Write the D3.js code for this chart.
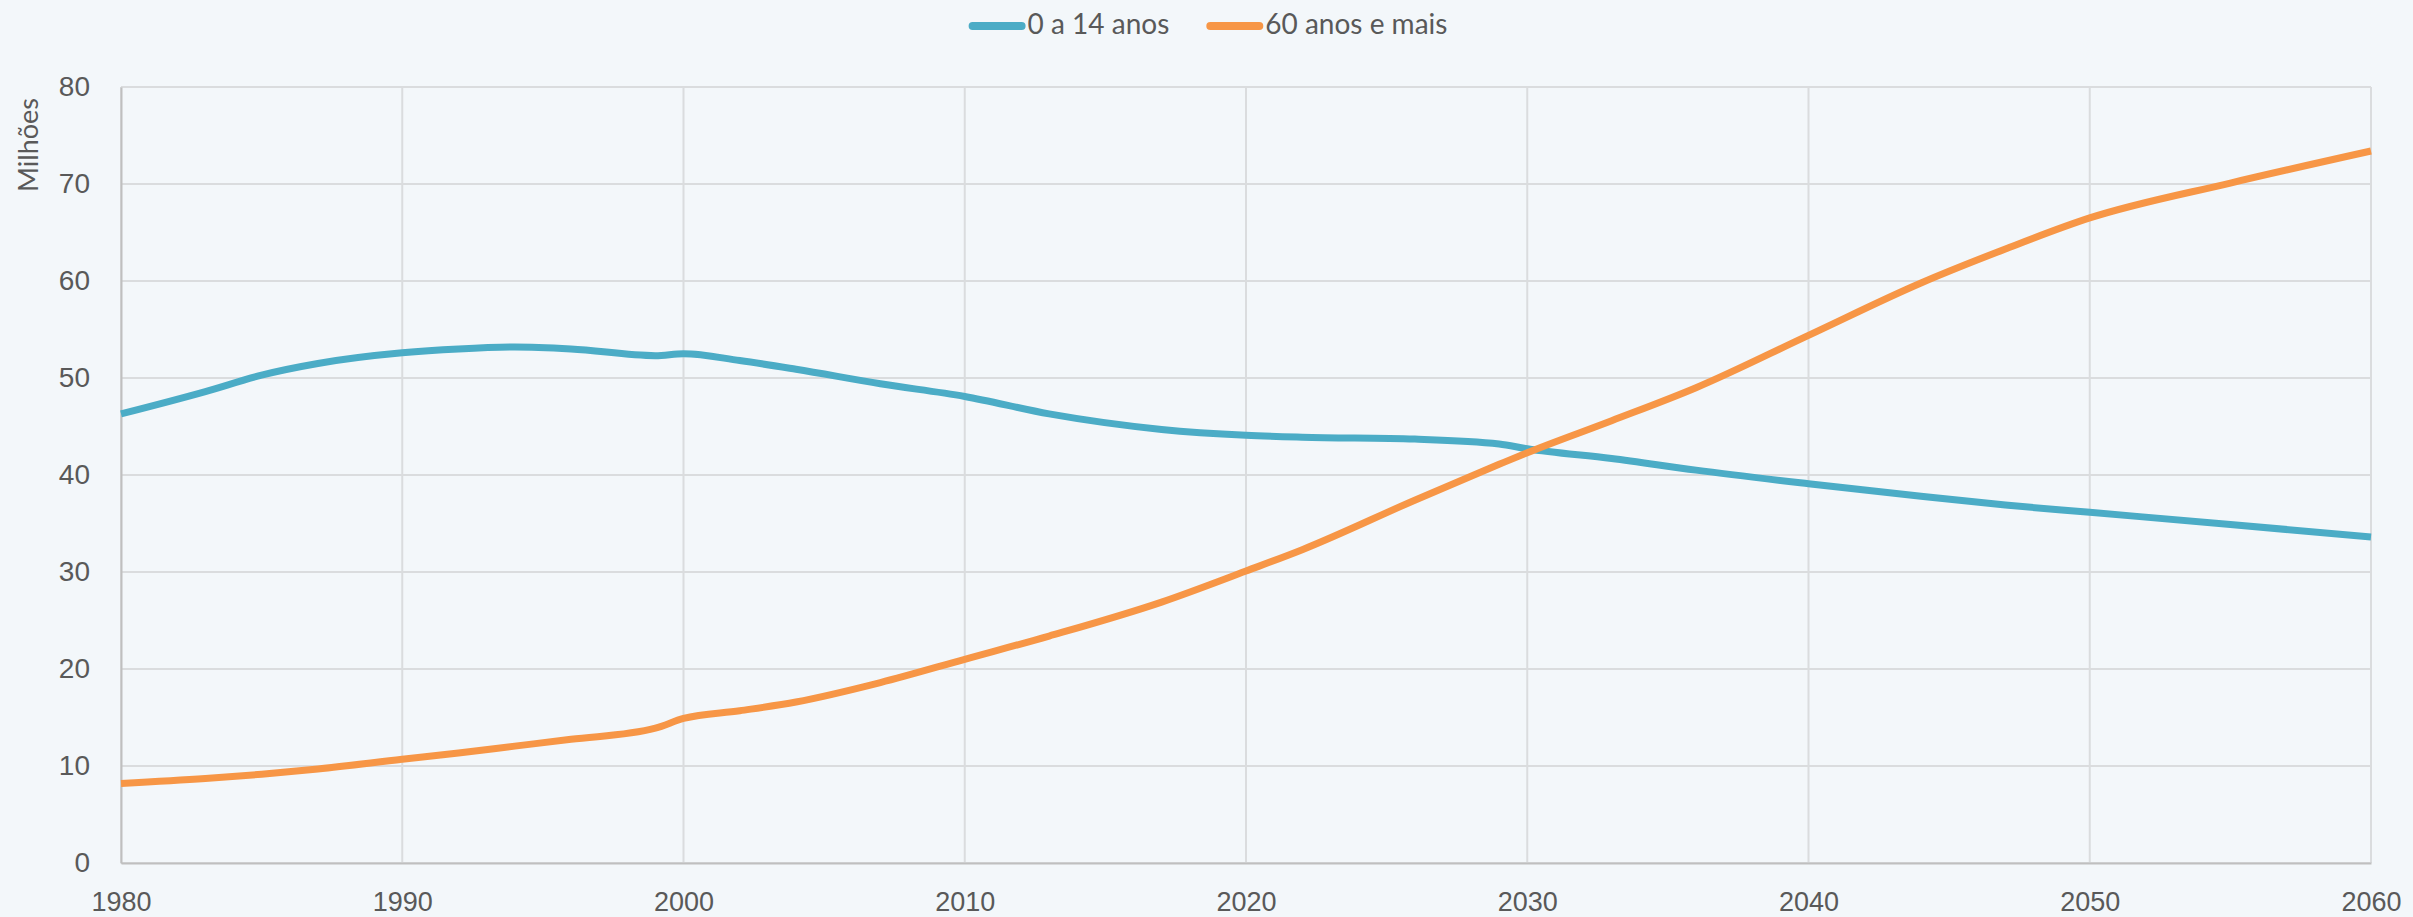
<!DOCTYPE html>
<html>
<head>
<meta charset="utf-8">
<script src="https://d3js.org/d3.v7.min.js"></script>
<style>
  body { margin: 0; background: #F3F7FA; }
  svg { display: block; font-family: Lato, "Noto Sans", sans-serif; }
  .tick text { fill: #595959; font-size: 28px; }
  .legend text { fill: #595959; font-size: 28px; }
</style>
</head>
<body>
<div id="chart"></div>
<script>

// chart data (milhões de pessoas)
var years = [1980, 1983, 1985, 1987, 1990, 1992, 1994, 1996, 1999, 2000, 2002, 2004, 2007, 2010, 2013, 2017, 2020, 2022, 2026, 2029, 2030, 2033, 2036, 2040, 2044, 2047, 2050, 2055, 2060];
var young = [46.3, 48.6, 50.3, 51.5, 52.6, 53.0, 53.2, 53.0, 52.3, 52.5, 51.8, 50.9, 49.4, 48.1, 46.3, 44.7, 44.1, 43.9, 43.7, 43.2, 42.7, 41.7, 40.5, 39.1, 37.8, 36.9, 36.15, 34.9, 33.6];
var old = [8.2, 8.7, 9.15, 9.7, 10.7, 11.35, 12.05, 12.75, 13.9, 14.9, 15.7, 16.6, 18.6, 21.0, 23.4, 26.9, 30.1, 32.3, 37.4, 41.1, 42.3, 45.6, 49.0, 54.4, 59.8, 63.3, 66.5, 70.1, 73.4];
var seriesNames = ["0 a 14 anos", "60 anos e mais"];
var seriesColors = ["#4BACC6", "#F79646"];
var xTicks = [1980, 1990, 2000, 2010, 2020, 2030, 2040, 2050, 2060];
var yTicks = [0, 10, 20, 30, 40, 50, 60, 70, 80];

var margin = {
	left: 121,
	right: 42,
	top: 87,
	bottom: 54
};

var width = 2413 - margin.left - margin.right;
var height = 917 - margin.top - margin.bottom;

var svgRoot = d3.select("#chart")
	.append("svg")
	.attr("width", width + margin.left + margin.right)
	.attr("height", height + margin.top + margin.bottom);

var svg = svgRoot.append("g")
	.attr("transform", "translate(" + margin.left + "," + margin.top + ")");

var xScale = d3.scaleLinear()
	.domain([1980, 2060])
	.range([0, width]);

var yScale = d3.scaleLinear()
	.domain([0, 80])
	.range([height, 0]);

// grid lines
svg.append("g")
	.selectAll("line")
	.data(yTicks).enter()
	.append("line")
	.attr("x1", 0)
	.attr("x2", width)
	.attr("y1", function(d){ return yScale(d) })
	.attr("y2", function(d){ return yScale(d) })
	.attr("stroke", "#DADCDE")
	.attr("stroke-width", 2);

svg.append("g")
	.selectAll("line")
	.data(xTicks).enter()
	.append("line")
	.attr("x1", function(d){ return xScale(d) })
	.attr("x2", function(d){ return xScale(d) })
	.attr("y1", 0)
	.attr("y2", height)
	.attr("stroke", "#DADCDE")
	.attr("stroke-width", 2);

// axes
var xAxis = d3.axisBottom(xScale).tickValues(xTicks).tickFormat(d3.format("d")).tickSize(0).tickPadding(29);
var yAxis = d3.axisLeft(yScale).tickValues(yTicks).tickSize(0).tickPadding(31);

svg.append("g")
	.attr("transform", "translate(0," + height + ")")
	.call(xAxis)
	.call(function(g){ g.select(".domain").attr("stroke", "#BFBFBF").attr("stroke-width", 2) })
	.selectAll(".tick text")
	.style("font-size", "27px");

svg.append("g")
	.call(yAxis)
	.call(function(g){ g.select(".domain").attr("stroke", "#BFBFBF").attr("stroke-width", 2) })
	.selectAll(".tick text")
	.attr("dy", "0.3em");

svg.append("text")
	.attr("transform", "rotate(-90)")
	.attr("x", -58)
	.attr("y", -83)
	.style("text-anchor", "middle")
	.style("font-size", "27px")
	.attr("fill", "#595959")
	.text("Milhões");

// lines
var line = d3.line()
	.x(function(d){ return xScale(d.year) })
	.y(function(d){ return yScale(d.value) })
	.curve(d3.curveMonotoneX);

var series = [young, old].map(function(values, i){
	return {
		name: seriesNames[i],
		color: seriesColors[i],
		points: years.map(function(y, j){ return { year: y, value: values[j] } })
	};
});

svg.selectAll(".line")
	.data(series).enter()
	.append("path")
	.attr("class", "line")
	.attr("d", function(d){ return line(d.points) })
	.attr("fill", "none")
	.attr("stroke", function(d){ return d.color })
	.attr("stroke-width", 7);

// legend, centered at the top
var legend = svgRoot.append("g").attr("class", "legend");
var offset = 0;
series.forEach(function(s, i){
	var item = legend.append("g").attr("transform", "translate(" + offset + ",0)");
	item.append("line")
		.attr("x1", 4).attr("x2", 53)
		.attr("y1", 26).attr("y2", 26)
		.attr("stroke", s.color)
		.attr("stroke-width", 8)
		.attr("stroke-linecap", "round");
	var t = item.append("text")
		.attr("x", 59)
		.attr("y", 34)
		.text(s.name);
	offset += 59 + t.node().getComputedTextLength() + 37;
});
var legendWidth = offset - 37;
legend.attr("transform", "translate(" + (1208 - legendWidth / 2) + ",0)");

</script>
</body>
</html>
